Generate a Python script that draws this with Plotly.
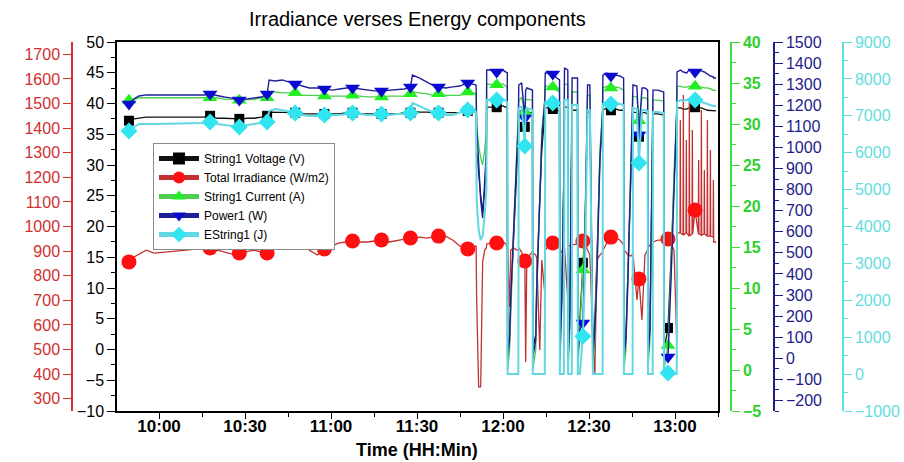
import plotly.graph_objects as go
import pandas as pd

# time of each logged sample, minutes after midnight
time_min = [
    588.5, 589.5, 591.3, 593.0, 595.5, 598.3, 615.7, 617.8, 620.3, 622.7,
    625.5, 628.0, 630.8, 633.2, 635.7, 637.7, 638.4, 640.5, 643.0, 645.4,
    647.5, 650.0, 652.4, 655.2, 657.7, 660.5, 662.9, 665.4, 667.5, 669.9,
    672.7, 675.1, 677.6, 680.4, 683.2, 685.6, 687.7, 688.4, 690.9, 693.3,
    695.4, 697.5, 700.0, 702.4, 704.9, 707.7,
    709.75, 710.6, 710.8, 711.5, 712.2, 712.9, 713.6, 714.2, 714.3, 716.0,
    717.8, 719.9, 721.5, 721.6, 722.3, 722.7, 723.7, 724.8, 725.35, 725.5,
    726.5, 727.6, 727.9, 728.3, 730.27, 730.37, 731.42, 731.77, 732.82, 733.52,
    734.57, 734.74, 735.62, 737.36, 738.76, 739.71, 739.81, 740.51, 741.21, 741.45,
    742.61, 742.71, 743.31, 744.0, 744.11, 745.99, 746.1, 746.8, 747.85, 748.55,
    749.49, 750.3, 751.35, 752.04, 752.74, 753.79, 754.74, 754.84, 756.24, 757.64,
    759.38, 760.78, 762.08, 762.18, 762.88, 763.58, 764.63, 765.22, 765.33, 766.72,
    767.42, 768.47, 769.52, 770.46, 770.57, 771.27, 772.21, 772.32, 774.06, 776.06,
    776.16, 777.56, 778.61, 779.66, 780.6, 780.71,
    781.75, 781.86, 781.96, 782.8, 782.91, 783.01, 783.85, 783.96, 784.06,
    784.9, 785.01, 785.11, 785.95, 786.05, 786.16, 787.0,
    788.14, 788.25, 788.35, 789.1, 789.2, 789.31, 790.14, 790.25, 790.35,
    791.19, 791.3, 791.4, 792.24, 792.35, 792.45, 793.29, 793.39, 793.5, 794.34,
]

voltage = [
    37.2, 37.2, 37.5, 37.6, 37.8, 37.8, 37.8, 38.0, 37.6, 37.6,
    37.5, 37.5, 37.6, 37.6, 37.8, 38.0, 38.6, 38.6, 38.6, 38.5,
    38.5, 38.3, 38.3, 38.3, 38.3, 38.3, 38.3, 38.5, 38.5, 38.3,
    38.3, 38.3, 38.3, 38.3, 38.3, 38.5, 38.5, 38.8, 38.6, 38.6,
    38.5, 38.5, 38.5, 38.5, 38.5, 38.8,
    38.6, 38.6, 32.4, 28.4, 25.1, 22.4, 25.9, 30.8,
    39.4, 39.4, 39.4, 39.6, 39.3,
    0.0, 2.4, 8.1, 19.4, 29.2, 34.1,
    38.6, 38.9, 36.2, 38.5, 38.6, 38.5,
    0.0, 2.4, 11.3, 24.3, 32.4, 38.1,
    39.3, 39.3, 39.1, 38.9, 38.8,
    0.0, 9.7, 27.6,
    39.4, 39.4,
    0.0, 6.4, 32.4,
    38.9, 38.9,
    0.0, 4.8, 14.1, 19.4,
    38.6, 38.6,
    0.0, 4.8, 14.6, 30.8, 37.3,
    38.9, 39.3, 38.9, 39.1, 38.9, 38.9,
    0.0, 2.4, 12.9, 30.8, 37.3,
    38.6, 38.5, 34.6, 38.5, 38.5, 38.3,
    0.0, 4.0, 34.1,
    38.3, 38.3, 38.1,
    0.0, 3.5, 14.6, 27.6, 37.3,
    39.3,
    39.3, 39.3, 39.3, 39.1, 39.1, 39.1, 39.1, 39.1, 39.1,
    39.3, 39.3, 39.3, 39.4, 39.4, 39.4, 39.4,
    39.3, 39.3, 39.3, 39.3, 39.3, 39.3, 39.1, 39.1, 39.1,
    38.9, 38.9, 38.9, 38.9, 38.9, 38.9, 38.8, 38.8, 38.8, 38.8,
]

irradiance = [
    852, 856, 876, 888, 904, 892, 913, 913, 904, 896,
    888, 892, 900, 904, 896, 892, 904, 917, 929, 933,
    941, 929, 904, 884, 909, 921, 933, 937, 941, 937,
    937, 941, 945, 937, 945, 949, 953, 953, 957, 953,
    957, 961, 961, 945, 921, 909,
    917, 921, 701, 348, 348, 856, 904, 913,
    929, 933, 933, 941, 921,
    904, 673, 904, 913, 904, 904,
    913, 896, 860, 449, 872, 896,
    892, 884, 872, 498, 864, 730,
    904, 917, 933, 925, 921,
    904, 896, 904,
    913, 701,
    925, 921, 925,
    925, 929,
    929, 933, 941, 929,
    904, 884,
    539, 404, 864, 884, 896,
    904, 933, 957, 953, 945, 925,
    904, 896, 884, 880, 884,
    888, 701, 787, 620, 884, 904,
    913, 925, 933,
    937, 945, 945,
    937, 949, 933, 904, 539,
    974,
    974, 1433, 974, 965, 1535, 965, 974, 1352, 974,
    961, 1514, 961, 970, 1392, 970, 1067,
    970, 1270, 970, 965, 1474, 965, 970, 1230, 970,
    961, 1433, 961, 961, 1311, 961, 957, 1189, 937, 937,
]

current = [
    32.9, 32.9, 33.0, 33.2, 33.2, 33.2, 33.2, 33.2, 33.2, 33.0,
    33.0, 32.9, 33.0, 33.0, 33.2, 33.2, 33.9, 33.9, 33.8, 33.8,
    33.8, 33.5, 33.5, 33.5, 33.4, 33.4, 33.4, 33.4, 33.5, 33.4,
    33.3, 33.3, 33.3, 33.4, 33.4, 33.4, 33.7, 33.9, 33.8, 33.7,
    33.5, 33.7, 33.5, 33.5, 33.5, 33.9,
    33.8, 33.7, 29.9, 27.4, 25.9, 25.0, 26.8, 29.3,
    34.9, 34.8, 34.8, 34.9, 34.5,
    0.0, 2.4, 7.3, 17.1, 26.8, 30.5,
    32.9, 33.2, 31.5, 32.9, 33.0, 32.9,
    0.0, 2.4, 9.8, 20.7, 29.3, 32.9,
    34.6, 34.6, 34.5, 34.1, 33.9,
    0.0, 8.5, 24.4,
    34.9, 34.8,
    0.0, 4.9, 28.0,
    33.9, 33.9,
    0.0, 4.9, 12.2, 17.1,
    33.5, 33.5,
    0.0, 3.7, 12.2, 26.8, 31.7,
    34.4, 34.6, 34.4, 34.5, 34.4, 34.1,
    0.0, 2.4, 11.0, 26.8, 31.7,
    33.4, 33.3, 30.4, 33.2, 33.2, 33.0,
    0.0, 3.7, 29.3,
    32.9, 32.9, 32.8,
    0.0, 3.0, 12.2, 24.4, 31.7,
    34.6,
    34.6, 34.6, 34.6, 34.5, 34.5, 34.5, 34.5, 34.5, 34.5,
    34.6, 34.6, 34.6, 34.6, 34.6, 34.6, 34.6,
    34.5, 34.5, 34.5, 34.5, 34.5, 34.5, 34.4, 34.4, 34.4,
    34.4, 34.4, 34.4, 34.3, 34.3, 34.3, 34.1, 34.1, 34.1, 34.1,
]

power = [
    1201, 1206, 1230, 1244, 1249, 1249, 1249, 1253, 1244, 1239,
    1234, 1225, 1230, 1234, 1239, 1253, 1320, 1315, 1320, 1310,
    1301, 1291, 1282, 1282, 1277, 1272, 1277, 1282, 1282, 1277,
    1272, 1268, 1268, 1272, 1277, 1277, 1287, 1343, 1329, 1310,
    1296, 1287, 1282, 1287, 1291, 1306,
    1301, 1296, 1106, 940, 751, 665, 822, 988,
    1367, 1367, 1358, 1367, 1353,
    0, 87, 276, 608, 940, 1130,
    1296, 1306, 1140, 1272, 1282, 1272,
    0, 87, 324, 751, 1035, 1225,
    1353, 1353, 1348, 1329, 1320,
    0, 276, 845,
    1377, 1367,
    0, 181, 988,
    1329, 1329,
    0, 134, 167, 513,
    1296, 1296,
    0, 134, 371, 940, 1177,
    1343, 1353, 1339, 1343, 1339, 1329,
    0, 87, 371, 940, 1177,
    1296, 1291, 1059, 1282, 1282, 1272,
    0, 134, 1083,
    1272, 1272, 1263,
    0, 6, 371, 845, 1177,
    1358,
    1367, 1367, 1367, 1358, 1358, 1358, 1353, 1353, 1353,
    1367, 1367, 1367, 1367, 1367, 1367, 1358,
    1367, 1367, 1367, 1363, 1363, 1363, 1358, 1358, 1358,
    1348, 1348, 1348, 1339, 1339, 1339, 1334, 1334, 1329, 1329,
]

energy = [
    6588, 6588, 6697, 6778, 6778, 6778, 6805, 6832, 6778, 6751,
    6724, 6697, 6751, 6778, 6805, 6832, 7130, 7184, 7157, 7103,
    7076, 7022, 6995, 6995, 7022, 7022, 7022, 7049, 7076, 7049,
    7022, 7022, 7049, 7022, 7049, 7049, 7076, 7347, 7266, 7184,
    7103, 7076, 7022, 7022, 7076, 7157,
    7130, 7103, 4718, 3905, 3634, 3743, 4312, 4989,
    7428, 7428, 7428, 7455, 7374,
    0, 0, 0, 0, 0, 0,
    7211, 7266, 6182, 7157, 7211, 7157,
    0, 0, 0, 0, 0, 0,
    7374, 7374, 7347, 7266, 7238,
    0, 0, 0,
    7428, 7428,
    0, 0, 0,
    7293, 7293,
    0, 0, 1024, 2550,
    7157, 7157,
    0, 0, 0, 0, 0,
    7320, 7374, 7320, 7347, 7320, 7293,
    0, 0, 0, 0, 0,
    7211, 7184, 5721, 7157, 7157, 7130,
    0, 0, 0,
    7103, 7103, 7076,
    0, 30, 0, 0, 0,
    7374,
    7428, 7428, 7428, 7401, 7401, 7401, 7428, 7428, 7428,
    7455, 7455, 7455, 7428, 7428, 7428, 7428,
    7401, 7401, 7401, 7374, 7374, 7374, 7347, 7347, 7347,
    7320, 7320, 7320, 7293, 7293, 7293, 7266, 7266, 7266, 7266,
]

# samples that carry a symbol (every ~10 minutes)
marker_times = [589.5, 617.8, 628.0, 637.7, 647.5, 657.7, 667.5, 677.6, 687.7,
                697.5, 707.7, 717.8, 727.6, 737.36, 747.85, 757.64, 767.42,
                777.56, 787.0]

day = pd.Timestamp("2021-06-01")
t = [day + pd.Timedelta(minutes=m) for m in time_min]
idx = [time_min.index(m) for m in marker_times]
tm = [t[i] for i in idx]

FONT = "Liberation Sans, Arial, sans-serif"
BLACK, RED, GREEN, NAVY, CYAN = "#000000", "#d03030", "#3fdc3f", "#1c1c8a", "#5fdede"

series = [
    # name, values, yaxis, line colour, marker colour, symbol, size, line width
    ("String1 Voltage (V)", voltage, "y", "#111111", "#000000", "square", 10, 1.3),
    ("Total Irradiance (W/m2)", irradiance, "y2", "#c23030", "#ff1010", "circle", 15, 1.3),
    ("String1 Current (A)", current, "y3", "#4ccf4c", "#22ee22", "triangle-up", 13, 1.3),
    ("Power1 (W)", power, "y4", "#1e1e9a", "#0a0ad0", "triangle-down", 13, 1.4),
    ("EString1 (J)", energy, "y5", "#62d8e2", "#30e4f0", "diamond", 13, 2.0),
]

fig = go.Figure()
for name, vals, ya, lc, mc, sym, ms, lw in series:
    fig.add_trace(go.Scatter(x=t, y=vals, yaxis=ya, mode="lines",
                             line=dict(color=lc, width=lw), showlegend=False,
                             hoverinfo="skip"))
    fig.add_trace(go.Scatter(x=tm, y=[vals[i] for i in idx], yaxis=ya, mode="markers",
                             marker=dict(symbol=sym, size=ms, color=mc, line=dict(width=0)),
                             showlegend=False))
for name, vals, ya, lc, mc, sym, ms, lw in series:
    fig.add_trace(go.Scatter(x=[None], y=[None], yaxis=ya, mode="lines+markers", name=name,
                             line=dict(color=lc, width=1.5),
                             marker=dict(symbol=sym, size=min(ms, 12), color=mc)))

W, H = 904, 462
xd = [117 / W, 718 / W]
yd = [1 - 411 / H, 1 - 42 / H]


def yax(color, rng, dtick, minor, pos=None, side="left", bold=False, tick0=0, lab=None):
    d = dict(range=rng, dtick=dtick, tick0=tick0, showgrid=False, zeroline=False,
             showline=True, linecolor=color, linewidth=1.5, automargin=False,
             ticks="outside", ticklen=8, tickwidth=1.3, tickcolor=color,
             tickfont=dict(family=FONT, size=16, color=lab or color,
                           weight="bold" if bold else "normal"),
             side=side, domain=yd, fixedrange=True)
    if minor:
        d["minor"] = dict(dtick=minor, ticks="outside", ticklen=4, tickcolor=color,
                          tickwidth=1.2, showgrid=False)
    if pos is not None:
        d.update(anchor="free", position=pos, overlaying="y")
    else:
        d.update(anchor="x", mirror=True)
    return d


fig.update_layout(
    template="none",
    width=W, height=H,
    margin=dict(l=0, r=0, t=0, b=0, pad=0),
    paper_bgcolor="white", plot_bgcolor="white",
    font=dict(family=FONT, color="black"),
    xaxis=dict(
        domain=xd, type="date", automargin=False,
        range=[day + pd.Timedelta(minutes=585.33), day + pd.Timedelta(minutes=795.0)],
        tick0=day + pd.Timedelta(minutes=600), dtick=30 * 60 * 1000, tickformat="%H:%M",
        ticks="outside", ticklen=6, tickwidth=1.3, tickcolor="black",
        minor=dict(dtick=15 * 60 * 1000, ticks="outside", ticklen=4, tickcolor="black"),
        showline=True, linecolor="black", linewidth=1.5, mirror=True,
        showgrid=False, zeroline=False, fixedrange=True, ticklabelstandoff=-7,
        tickfont=dict(family=FONT, size=17, color="black", weight="bold"),
    ),
    yaxis=yax(BLACK, [-10, 50], 5, 2.5),
    yaxis2=yax(RED, [250, 1750], 100, None, pos=72 / W),
    yaxis3=yax(GREEN, [-5, 40], 5, 2.5, pos=731 / W, side="right", bold=True,
               lab="#2fd02f"),
    yaxis4=yax(NAVY, [-250, 1500], 100, 50, pos=774 / W, side="right"),
    yaxis5=yax(CYAN, [-1000, 9000], 1000, 500, pos=843 / W, side="right"),
    legend=dict(x=153 / W, y=1 - 143 / H, xanchor="left", yanchor="top",
                bordercolor="#8a8a8a", borderwidth=1, bgcolor="white",
                font=dict(family=FONT, size=12, color="black"),
                tracegroupgap=0, itemwidth=40, itemsizing="constant"),
    annotations=[
        dict(text="Irradiance verses Energy components", x=417 / W, y=1 - 19 / H,
             xref="paper", yref="paper", xanchor="center", yanchor="middle",
             showarrow=False, font=dict(family=FONT, size=20, color="black")),
        dict(text="<b>Time (HH:Min)</b>", x=417 / W, y=1 - 450 / H,
             xref="paper", yref="paper", xanchor="center", yanchor="middle",
             showarrow=False, font=dict(family=FONT, size=18, color="black")),
    ],
    showlegend=True,
)

fig.write_html("out.html")
